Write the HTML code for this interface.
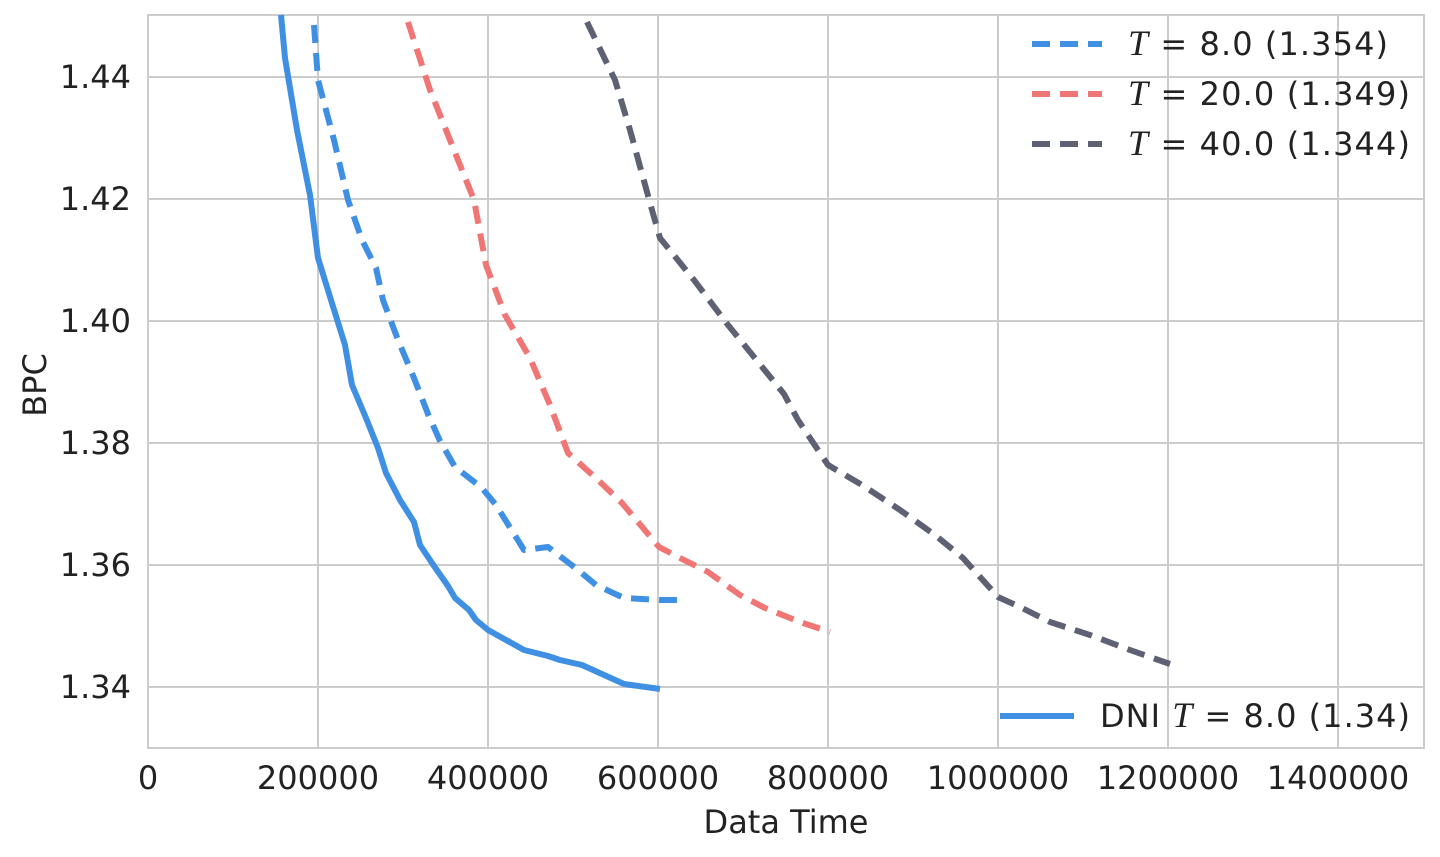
<!DOCTYPE html>
<html><head><style>body{margin:0;background:#fff}svg{display:block}</style></head><body>
<svg width="1440" height="857" xmlns="http://www.w3.org/2000/svg" font-family="'DejaVu Sans','Liberation Sans',sans-serif">
<rect x="148" y="15" width="1276" height="733" fill="#fff" stroke="#ccc" stroke-width="2"/>
<g stroke="#cccccc" stroke-width="2">
<line x1="318" y1="15" x2="318" y2="748"/><line x1="488" y1="15" x2="488" y2="748"/><line x1="658" y1="15" x2="658" y2="748"/><line x1="828" y1="15" x2="828" y2="748"/><line x1="998" y1="15" x2="998" y2="748"/><line x1="1168" y1="15" x2="1168" y2="748"/><line x1="1338" y1="15" x2="1338" y2="748"/>
<line x1="148" y1="77" x2="1424" y2="77"/><line x1="148" y1="199" x2="1424" y2="199"/><line x1="148" y1="321" x2="1424" y2="321"/><line x1="148" y1="443" x2="1424" y2="443"/><line x1="148" y1="565" x2="1424" y2="565"/><line x1="148" y1="687" x2="1424" y2="687"/>
</g>
<g font-size="32" fill="#222" text-anchor="end">
<text x="131" y="88">1.44</text><text x="131" y="210">1.42</text><text x="131" y="332">1.40</text><text x="131" y="454">1.38</text><text x="131" y="576">1.36</text><text x="131" y="698">1.34</text>
</g>
<g font-size="32" fill="#222" text-anchor="middle">
<text x="148" y="789">0</text><text x="318" y="789">200000</text><text x="488" y="789">400000</text><text x="658" y="789">600000</text><text x="828" y="789">800000</text><text x="998" y="789">1000000</text><text x="1168" y="789">1200000</text><text x="1338" y="789">1400000</text>
<text x="786" y="833">Data Time</text>
</g>
<text transform="translate(46,385) rotate(-90)" font-size="32" fill="#222" text-anchor="middle">BPC</text>
<g fill="none" stroke-width="6" stroke-linejoin="round">
<polyline stroke="#3f8fe3" points="281,15 285,58 297,130 310,195 318,258 331,300 345,345 352,385 366,418 378,448 386,473 400,500 414,522 420,545 434,566 448,586 455,598 469,610 476,620 488,630 524,650 548,656 560,660 582,665 624,684 660,689"/>
<polyline stroke="#3f8fe3" stroke-dasharray="18,10" points="314,25 318,80 334,140 348,200 362,240 376,268 383,300 398,340 414,378 428,414 440,441 455,467 481,487 496,505 524,550 548,547 578,570 596,585 624,598 660,600 685,600"/>
<polyline stroke="#f07575" stroke-dasharray="18,10" points="408,22 430,90 454,150 474,200 486,265 505,315 530,358 550,405 568,453 598,480 622,503 659,547 684,560 708,572 740,595 765,608 800,622 830,632"/>
<polyline stroke="#5d6173" stroke-dasharray="18,10" points="587,22 615,80 630,130 652,210 660,238 694,280 728,325 750,352 784,394 798,420 828,465 862,485 900,510 935,535 963,558 998,597 1020,607 1050,622 1090,635 1130,650 1170,664"/>
<line x1="1032" y1="44" x2="1102" y2="44" stroke="#3f8fe3" stroke-dasharray="18,10"/>
<line x1="1032" y1="94" x2="1102" y2="94" stroke="#f07575" stroke-dasharray="18,10"/>
<line x1="1032" y1="144" x2="1102" y2="144" stroke="#5d6173" stroke-dasharray="18,10"/>
<line x1="1000" y1="716" x2="1074" y2="716" stroke="#3f8fe3"/>
</g>
<g font-size="32" fill="#222">
<text x="1128" y="55" textLength="260"><tspan font-family="'Liberation Serif',serif" font-style="italic" font-size="36">T</tspan> = 8.0 (1.354)</text>
<text x="1128" y="105" textLength="282"><tspan font-family="'Liberation Serif',serif" font-style="italic" font-size="36">T</tspan> = 20.0 (1.349)</text>
<text x="1128" y="155" textLength="282"><tspan font-family="'Liberation Serif',serif" font-style="italic" font-size="36">T</tspan> = 40.0 (1.344)</text>
<text x="1100" y="727" textLength="310">DNI <tspan font-family="'Liberation Serif',serif" font-style="italic" font-size="36">T</tspan> = 8.0 (1.34)</text>
</g>
</svg>
</body></html>
